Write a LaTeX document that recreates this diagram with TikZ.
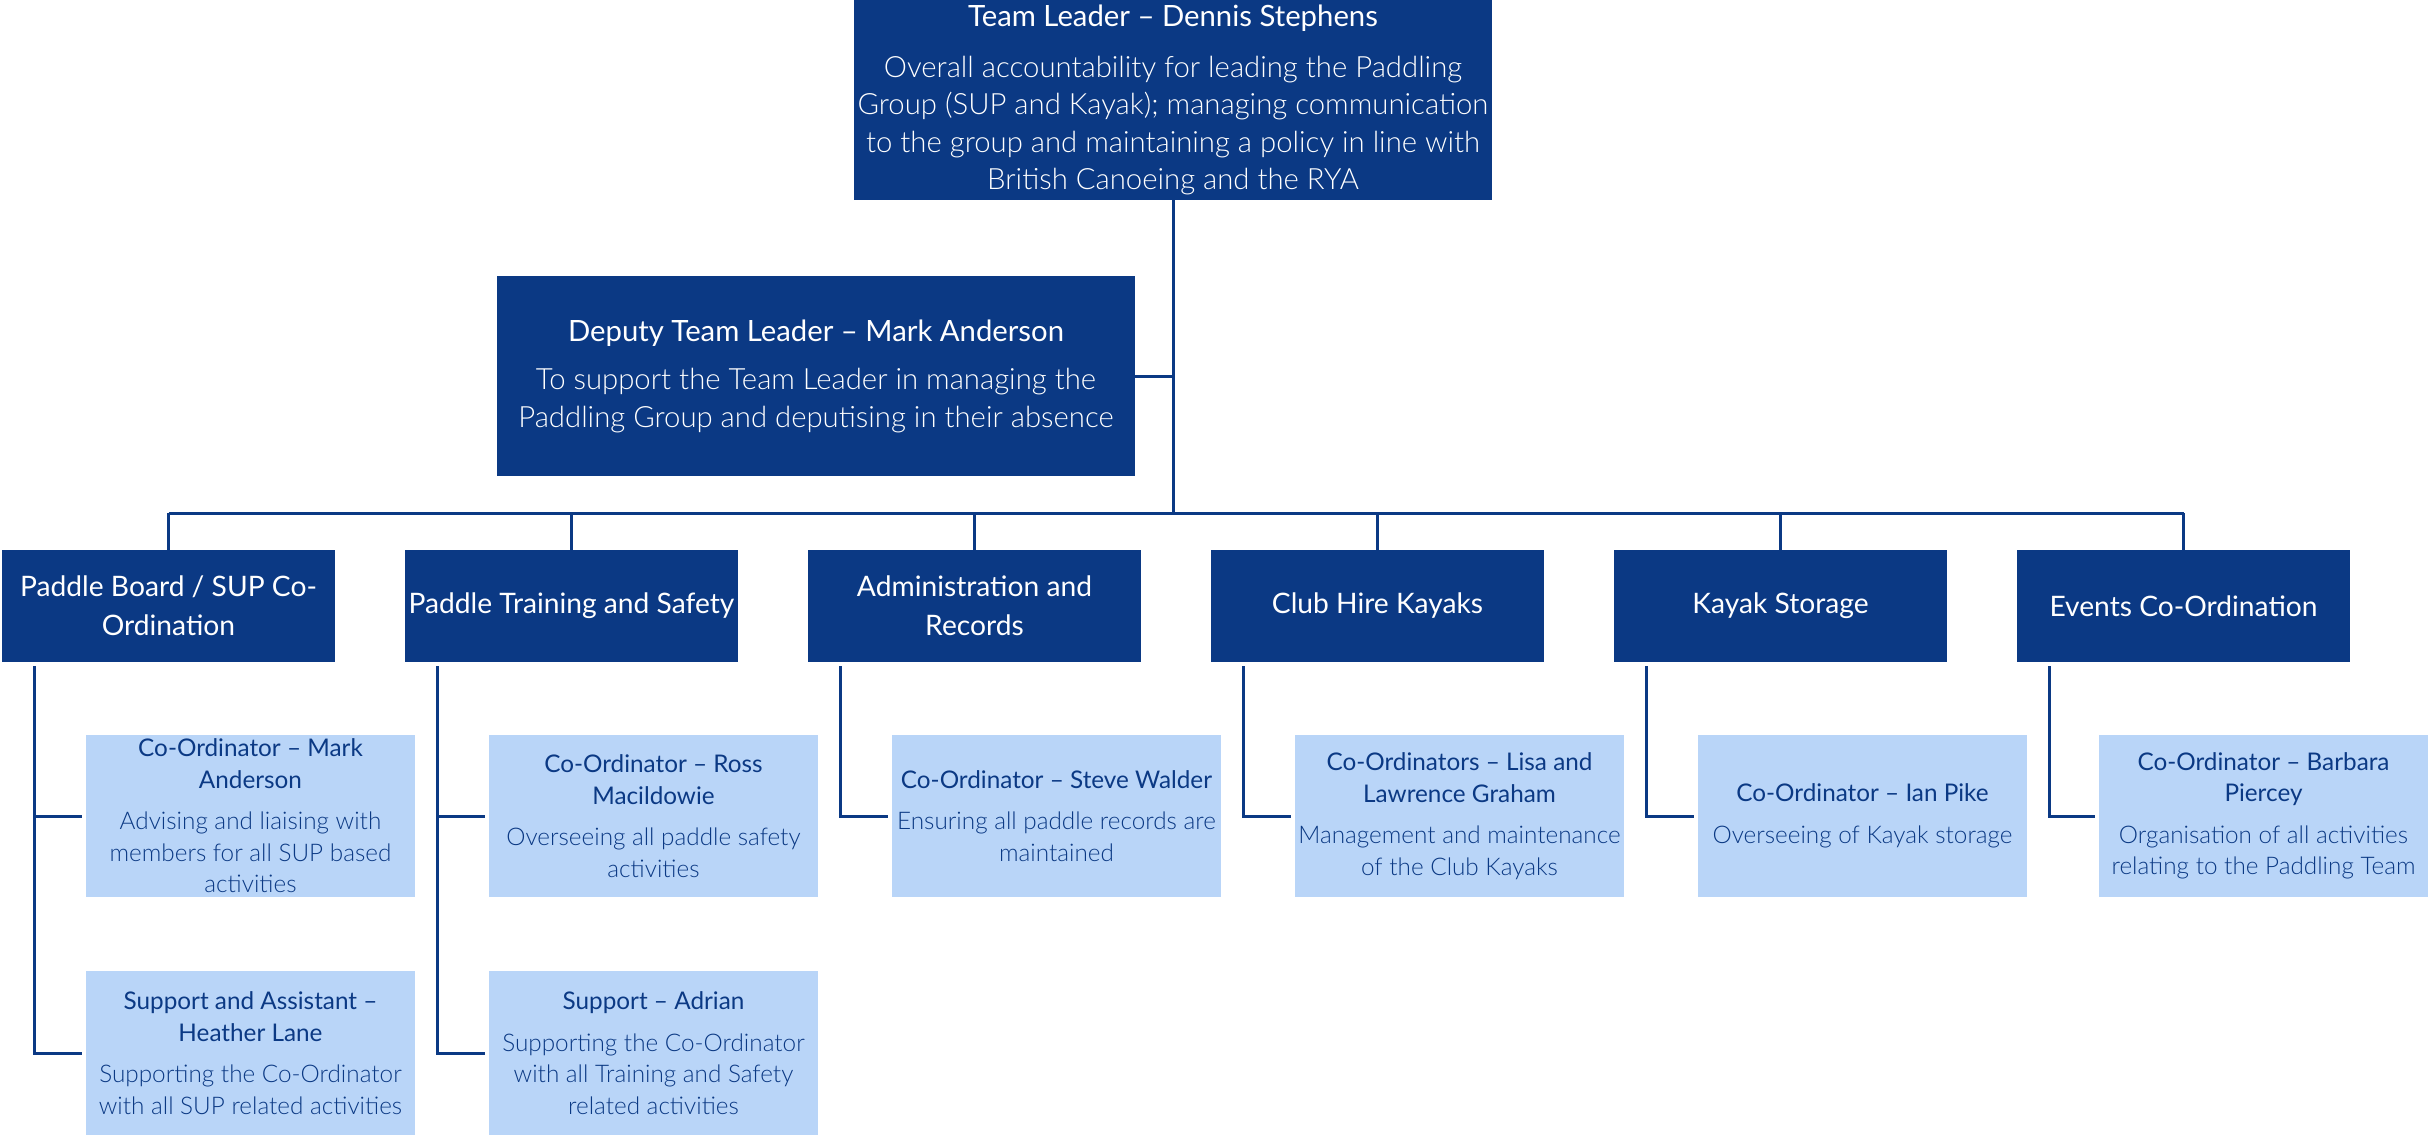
\documentclass[tikz,border=0pt]{standalone}
\usepackage{fontspec}
\setmainfont{Lato}
\newfontfamily\lightf{Lato Light}
\definecolor{navy}{HTML}{0B3984}
\definecolor{pale}{HTML}{B9D5F8}
% title line(s), then a lighter description; each description line switches weight itself
\newcommand{\rolebox}[2]{#1\\[10pt]\lightf #2}
\newcommand{\nl}{\\\lightf}
\begin{document}
\begin{tikzpicture}[x=1pt,y=-1pt,
  link/.style={draw=navy,line width=3pt},
  darkbox/.style={fill=navy,text=white,inner sep=0pt,outer sep=0pt,align=center,anchor=north west},
  leadbox/.style={darkbox,minimum width=638pt,minimum height=200pt,font=\fontsize{29.3}{37.5}\selectfont},
  areabox/.style={darkbox,minimum width=333pt,minimum height=112pt,font=\fontsize{28.2}{39}\selectfont},
  rolebox/.style={fill=pale,text=navy,inner sep=0pt,outer sep=0pt,align=center,anchor=north west,
    minimum width=329pt,font=\fontsize{24.3}{31.5}\selectfont}
]
\path[use as bounding box,fill=white] (0,0) rectangle (2430,1135);

% leadership
\node[leadbox] (top) at (854,0) {Team Leader -- Dennis Stephens\\[13pt]\lightf Overall accountability for leading the Paddling\nl Group (SUP and Kayak); managing communication\nl to the group and maintaining a policy in line with\nl British Canoeing and the RYA};
\node[leadbox] (dep) at (497,276) {Deputy Team Leader -- Mark Anderson\\[11pt]\lightf To support the Team Leader in managing the\nl Paddling Group and deputising in their absence};

% areas of responsibility
\node[areabox] (a1) at (2,550)    {Paddle Board / SUP Co-\\Ordination};
\node[areabox] (a2) at (405,550)  {Paddle Training and Safety};
\node[areabox] (a3) at (808,550)  {Administration and\\Records};
\node[areabox] (a4) at (1211,550) {Club Hire Kayaks};
\node[areabox] (a5) at (1614,550) {Kayak Storage};
\node[areabox] (a6) at (2017,550) {Events Co-Ordination};

% role holders
\node[rolebox,minimum height=162pt] (r1) at (86,735)   {\rolebox{Co-Ordinator -- Mark\\Anderson}{Advising and liaising with\nl members for all SUP based\nl activities}};
\node[rolebox,minimum height=164pt] (r1b) at (86,971)  {\rolebox{Support and Assistant --\\Heather Lane}{Supporting the Co-Ordinator\nl with all SUP related activities}};
\node[rolebox,minimum height=162pt] (r2) at (489,735)  {\rolebox{Co-Ordinator -- Ross\\Macildowie}{Overseeing all paddle safety\nl activities}};
\node[rolebox,minimum height=164pt] (r2b) at (489,971) {\rolebox{Support -- Adrian}{Supporting the Co-Ordinator\nl with all Training and Safety\nl related activities}};
\node[rolebox,minimum height=162pt] (r3) at (892,735)  {\rolebox{Co-Ordinator -- Steve Walder}{Ensuring all paddle records are\nl maintained}};
\node[rolebox,minimum height=162pt] (r4) at (1295,735) {\rolebox{Co-Ordinators -- Lisa and\\Lawrence Graham}{Management and maintenance\nl of the Club Kayaks}};
\node[rolebox,minimum height=162pt] (r5) at (1698,735) {\rolebox{Co-Ordinator -- Ian Pike}{Overseeing of Kayak storage}};
\node[rolebox,minimum height=162pt] (r6) at (2099,735) {\rolebox{Co-Ordinator -- Barbara\\Piercey}{Organisation of all activities\nl relating to the Paddling Team}};

% trunk, deputy link and bus
\coordinate (bus) at (0,513);
\draw[link] (top.south) -- (top.south |- bus);
\draw[link] (dep.east) -- (dep.east -| top.south);
\draw[link] (a1.north |- bus) -- (a6.north |- bus);
\foreach \n in {a1,a2,a3,a4,a5,a6}
  \draw[link] (\n.north |- bus) -- (\n.north);

% branches down to the role holders
\foreach \a/\r in {a1/r1,a2/r2,a3/r3,a4/r4,a5/r5,a6/r6}{
  \coordinate (\a b) at ([xshift=32pt,yshift=-4pt]\a.south west);
  \draw[link] (\a b) |- ([xshift=-4pt]\r.west);
}
\draw[link] (a1b) |- ([xshift=-4pt]r1b.west);
\draw[link] (a2b) |- ([xshift=-4pt]r2b.west);
\end{tikzpicture}
\end{document}
